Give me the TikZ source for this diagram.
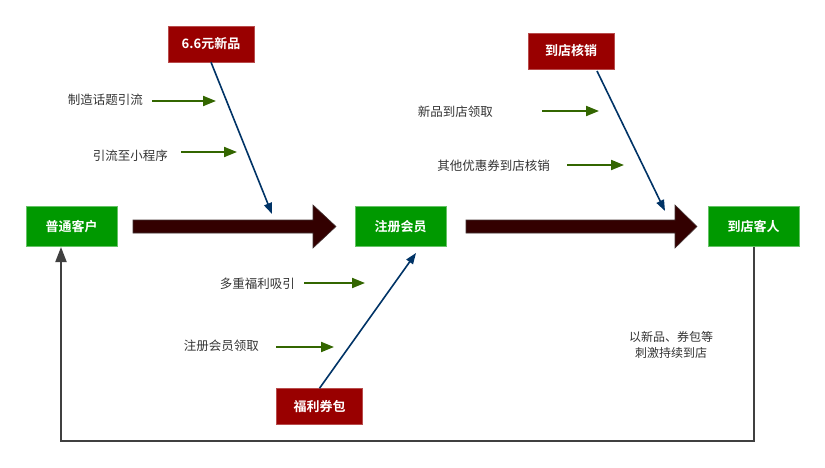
\documentclass[tikz,border=0pt]{standalone}
\usepackage{fontspec}
\setmainfont{Noto Sans CJK SC}[BoldFont={Noto Sans CJK SC Bold}]
\usepackage{xcolor}
\usepackage{tikz}
\usetikzlibrary{positioning,arrows.meta}
\definecolor{boxgreen}{HTML}{009900}
\definecolor{boxred}{HTML}{990000}
\definecolor{flowdark}{HTML}{330000}
\definecolor{linkblue}{HTML}{003366}
\definecolor{hintgreen}{HTML}{336600}
\definecolor{looptone}{HTML}{404040}
\tikzset{
member/.style={fill=boxgreen, draw=boxgreen!60!white, text=white, font=\bfseries\fontsize{13}{15}\selectfont, minimum width=91pt, minimum height=40pt, inner sep=0pt},
benefit/.style={fill=boxred, draw=boxred!70!white, text=white, font=\bfseries\fontsize{13}{15}\selectfont, minimum width=86pt, minimum height=36pt, inner sep=0pt},
hint/.style={text=black!80, font=\fontsize{12.5}{14}\selectfont, inner sep=0pt},
hintarrow/.style={draw=hintgreen, line width=2pt, -{Triangle[length=13pt,width=10pt]}},
linkarrow/.style={draw=linkblue, line width=1.6pt, -{Triangle[length=11pt,width=8pt]}},
looparrow/.style={draw=looptone, line width=2pt, -{Triangle[length=15pt,width=11pt]}},
flowarrow/.style={fill=flowdark, draw=black!60!flowdark!80!white, line width=0.6pt}
}
\newcommand{\flowshaft}[3]{% start, head base, tip
  \filldraw[flowarrow] (#1,220) -- (#2,220) -- (#2,205) -- (#3,226.5) -- (#2,248) -- (#2,233) -- (#1,233) -- cycle;}

\begin{document}
\begin{tikzpicture}[x=1pt,y=-1pt]
  \useasboundingbox (0,0) rectangle (825,468);

  % main flow
  \node[member] (putong) at (71.5,226.5) {普通客户};
  \node[member] (zhuce) at (400.5,226.5) {注册会员};
  \node[member] (daodian) at (753.5,226.5) {到店客人};
  \flowshaft{133}{313}{336}
  \flowshaft{466}{675}{697}

  % benefits
  \node[benefit] (xinpin) at (211,44) {6.6元新品};
  \node[benefit] (hexiao) at (571,51) {到店核销};
  \node[benefit] (quanbao) at (319.5,406.5) {福利券包};

  \coordinate (xinpinend) at (272,214);
  \coordinate (hexiaostart) at (597,71);
  \coordinate (hexiaoend) at (665,211);
  \coordinate (quanbaoend) at (416,253);
  \draw[linkarrow] (xinpin.south) -- (xinpinend);
  \draw[linkarrow] (hexiaostart) -- (hexiaoend);
  \draw[linkarrow] (quanbao.north) -- (quanbaoend);

  % hints
  \node[hint, anchor=east] (huati) at (143,100) {制造话题引流};
  \node[hint, anchor=east] (xiaocx) at (168,156) {引流至小程序};
  \node[hint, anchor=east] (lingqu) at (493,112) {新品到店领取};
  \node[hint, anchor=east] (qita) at (550,166) {其他优惠券到店核销};
  \node[hint, anchor=east] (duochong) at (295,284) {多重福利吸引};
  \node[hint, anchor=east] (zclq) at (259,346) {注册会员领取};
  \coordinate (huatiend) at (216,101);
  \coordinate (xiaocxend) at (237,152);
  \coordinate (lingquend) at (599,111);
  \coordinate (qitaend) at (624,165);
  \coordinate (duochongend) at (365,283);
  \coordinate (zclqend) at (334,347);
  \draw[hintarrow] (huati.east) ++(9,1) -- (huatiend);
  \draw[hintarrow] (xiaocx.east) ++(13,-4) -- (xiaocxend);
  \draw[hintarrow] (lingqu.east) ++(49,-1) -- (lingquend);
  \draw[hintarrow] (qita.east) ++(17,-1) -- (qitaend);
  \draw[hintarrow] (duochong.east) ++(9,-1) -- (duochongend);
  \draw[hintarrow] (zclq.east) ++(17,1) -- (zclqend);

  % loop back
  \node[hint, align=center, font=\fontsize{12}{16}\selectfont] (note) at (671,345) {以新品、券包等\\刺激持续到店};
  \coordinate (loopend) at (61,247);
  \draw[looparrow] (daodian.south) -- ++(0,194) -| (loopend);
\end{tikzpicture}
\end{document}
